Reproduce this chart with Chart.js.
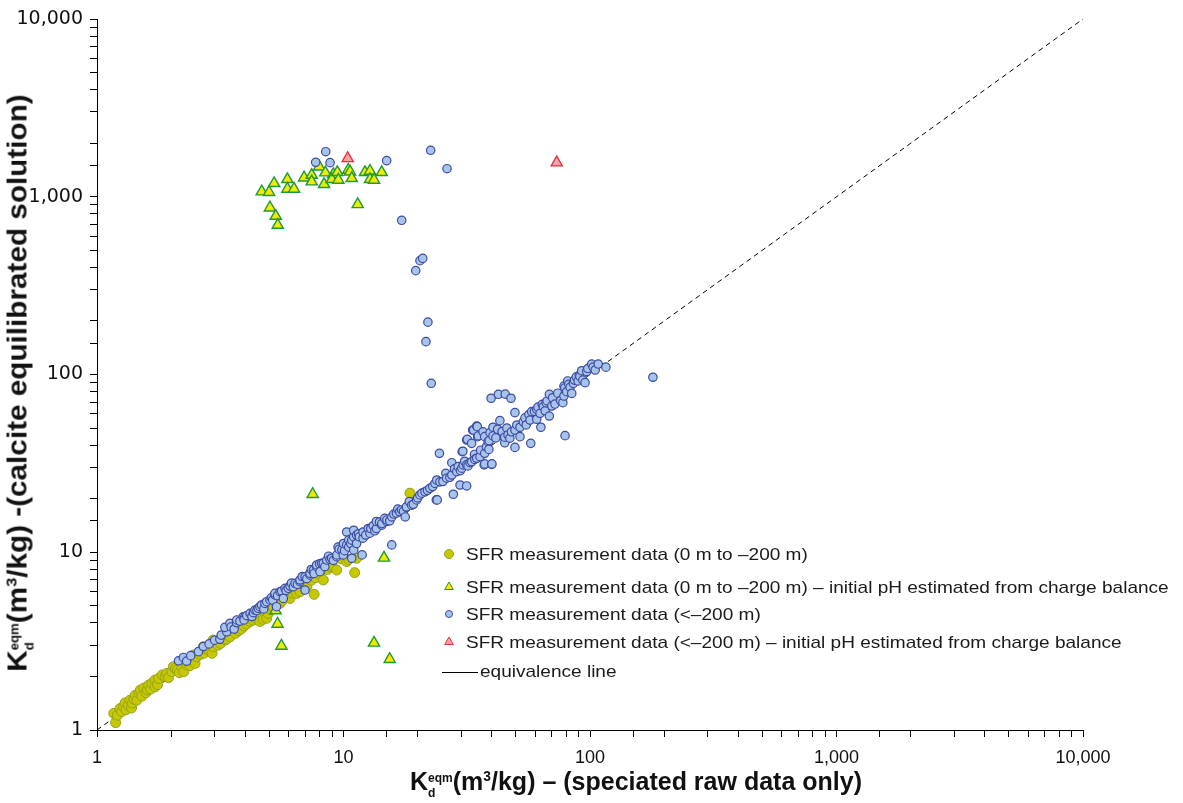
<!DOCTYPE html>
<html lang="en">
<head>
<meta charset="UTF-8">
<title>Kd eqm - calcite equilibrated vs speciated raw data</title>
<script src="https://cdn.jsdelivr.net/npm/chart.js"></script>
<style>
  body { margin: 0; background: #fff; }
  #wrap { position: relative; width: 1183px; height: 803px; }
  .axis-title {
    position: absolute; white-space: nowrap; color: #111;
    font-family: 'Liberation Sans', Arial, sans-serif; font-weight: bold; line-height: 1;
  }
  .kd { display: inline-block; vertical-align: -7px; font-size: 12px; line-height: 15px; text-align: left; }
  .kd span { display: block; }
  .cube { font-size: 0.55em; vertical-align: 0.65em; }
</style>
</head>
<body>
<div id="wrap">
  <canvas id="kdChart"></canvas>
  <div class="axis-title" id="xTitle" style="left:636px; top:785px; font-size:25px; transform: translate(-50%,-50%);">K<span class="kd"><span>eqm</span><span>d</span></span>(m<span class="cube">3</span>/kg) – (speciated raw data only)</div>
  <div class="axis-title" id="yTitle" style="left:21px; top:383px; font-size:27px; transform: translate(-50%,-50%) rotate(-90deg) scaleX(1.1);">K<span class="kd"><span>eqm</span><span>d</span></span>(m<span class="cube">3</span>/kg) -(calcite equilibrated solution)</div>
</div>

<script>
// axis range (log10 both ways)
const axisMin = 1;
const axisMax = 10000;

// SFR measurement data (0 m to -200 m)
const shallowCircles = [
  [1.19,1.10],[1.17,1.24],[1.21,1.21],[1.24,1.32],[1.26,1.27],[1.28,1.35],[1.30,1.42],[1.31,1.30],
  [1.34,1.38],[1.36,1.47],[1.38,1.33],[1.39,1.42],[1.41,1.49],[1.43,1.57],[1.45,1.47],[1.48,1.61],
  [1.50,1.68],[1.52,1.55],[1.55,1.72],[1.58,1.62],[1.60,1.68],[1.62,1.79],[1.65,1.70],[1.67,1.83],
  [1.72,1.91],[1.72,1.75],[1.76,1.80],[1.78,1.95],[1.84,2.04],[1.89,2.00],[1.92,2.08],[1.95,1.97],
  [2.01,2.13],[2.04,2.27],[2.08,2.22],[2.12,2.18],[2.16,2.10],[2.21,2.27],[2.25,2.13],[2.28,2.40],
  [2.32,2.32],[2.38,2.30],[2.43,2.48],[2.46,2.64],[2.50,2.37],[2.54,2.58],[2.62,2.66],[2.70,2.94],
  [2.71,2.70],[2.78,2.86],[2.84,2.82],[2.93,2.70],[2.96,3.21],[2.97,2.94],[3.05,3.12],[3.10,3.00],
  [3.17,3.07],[3.25,3.35],[3.32,3.21],[3.35,3.25],[3.40,3.45],[3.47,3.35],[3.57,3.73],[3.65,3.50],
  [3.75,3.62],[3.85,3.70],[3.95,3.85],[4.05,3.95],[4.18,4.08],[4.30,4.15],[4.40,4.25],[4.50,4.40],
  [4.58,4.08],[4.72,4.19],[4.80,4.65],[4.88,4.25],[4.95,4.53],[5.05,4.75],[5.20,4.90],[5.35,5.10],
  [5.53,5.16],[5.65,5.35],[5.80,5.60],[6.07,5.50],[6.20,5.90],[6.45,5.87],[6.66,6.00],[6.90,6.55],
  [7.10,6.40],[7.40,6.95],[7.60,5.80],[7.70,7.20],[8.00,7.50],[8.28,6.98],[8.60,8.00],[8.80,8.30],
  [9.00,8.40],[9.38,7.94],[9.80,9.20],[10.3,8.87],[10.5,9.10],[11.1,7.68],[11.3,9.25],[18.6,21.5]
];

// SFR measurement data (0 m to -200 m) - initial pH estimated from charge balance
const shallowTriangles = [
  [4.66,1068],[4.99,1060],[5.23,1190],[5.03,868],[5.31,779],[5.41,693],[5.92,1254],[5.92,1106],
  [6.30,1106],[6.92,1280],[7.43,1325],[7.43,1216],[7.97,1476],[8.34,1175],[8.44,1366],[9.09,1337],
  [8.96,1254],[9.44,1373],[9.53,1243],[10.46,1414],[10.63,1383],[10.80,1270],[11.42,906],[12.22,1373],
  [12.81,1396],[12.81,1254],[13.30,1243],[14.29,1373],
  [7.5,21.2],[5.3,4.7],[5.4,3.95],[5.6,2.97],[14.6,9.3],[13.3,3.09],[15.4,2.5]
];

// SFR measurement data (<-200 m)
const deepCircles = [
  [8.47,1792],[7.71,1563],[8.82,1555],[14.97,1596],[17.22,737],[22.58,1825],[26.3,1438],[19.63,384],
  [20.43,437],[20.96,450],[22.0,197],[21.6,153],[22.7,89.2],[180,96.5],[79.2,45.3],[15.7,11.0],[11.9,9.66],
  [2.14,2.45],[2.24,2.56],[2.31,2.44],[2.40,2.62],[2.58,2.76],[2.70,2.95],[2.85,3.05],[3.00,3.20],
  [3.15,3.24],[3.19,3.42],[3.36,3.57],[3.30,3.78],[3.46,3.98],[3.50,3.80],[3.60,3.70],[3.68,4.02],
  [3.69,4.16],[3.80,4.10],[3.92,4.34],[3.98,4.34],[3.95,4.16],[4.05,4.40],[4.18,4.53],[4.25,4.35],
  [4.31,4.57],[4.37,4.73],[4.45,4.70],[4.51,4.84],[4.58,4.94],[4.65,5.05],[4.75,4.80],[4.80,5.16],
  [4.88,5.27],[5.03,5.39],[5.10,5.55],[5.16,5.39],[5.27,5.75],[5.27,5.87],[5.35,4.94],[5.40,5.70],
  [5.53,6.00],[5.61,6.05],[5.70,5.50],[5.79,6.27],[5.85,6.10],[5.97,6.27],[6.07,6.46],[6.15,6.70],
  [6.26,6.40],[6.36,6.69],[6.50,6.60],[6.66,6.83],[6.66,6.98],[6.80,7.30],[6.98,7.28],[6.98,6.13],
  [7.10,7.10],[7.31,7.45],[7.31,7.62],[7.40,8.00],[7.55,7.94],[7.60,7.60],[7.78,8.29],[7.78,8.48],
  [8.00,8.60],[8.03,7.78],[8.15,8.66],[8.28,8.66],[8.40,8.30],[8.55,9.04],[8.70,9.50],[8.81,9.13],
  [8.95,9.25],[9.10,9.00],[9.38,9.44],[9.40,9.66],[9.50,10.7],[9.60,10.4],[9.85,10.3],[9.98,9.66],
  [10.0,11.2],[10.1,10.2],[10.3,11.0],[10.3,13.0],[10.5,10.7],[10.5,11.7],[10.7,11.2],[10.8,11.7],
  [10.8,9.25],[11.0,10.3],[11.0,12.2],[11.0,13.3],[11.3,11.2],[11.3,12.5],[11.5,12.7],[11.6,12.2],
  [12.0,12.0],[12.0,13.0],[12.3,12.5],[12.6,13.6],[12.8,12.8],[12.9,13.6],[13.2,14.1],[13.4,13.2],
  [13.6,13.6],[13.6,14.9],[14.0,14.8],[14.3,14.2],[14.3,14.5],[14.7,15.5],[15.0,14.9],[15.0,15.2],
  [15.4,15.0],[15.7,15.8],[16.0,16.4],[16.4,16.6],[16.6,17.5],[16.9,16.9],[17.2,17.3],[17.5,17.0],
  [17.8,15.8],[18.0,17.9],[18.0,18.0],[18.5,19.3],[18.9,18.4],[19.2,18.6],[19.8,19.7],[20.0,20.2],
  [20.4,21.0],[20.8,21.5],[21.4,21.9],[21.9,22.3],[22.4,22.9],[23.0,23.4],[23.5,24.4],[23.8,19.7],
  [23.9,25.5],[24.0,19.7],[24.5,36.0],[24.6,24.9],[25.3,25.0],[26.0,27.8],[26.2,26.1],[27.0,26.4],
  [27.5,27.2],[27.5,31.9],[27.9,21.2],[28.2,29.5],[28.8,28.4],[29.2,30.3],[29.7,23.9],[29.8,28.8],
  [30.2,29.7],[30.3,36.8],[30.5,37.0],[30.6,31.0],[31.0,32.5],[31.6,31.0],[31.6,23.6],[31.6,42.8],
  [31.8,43.2],[32.0,30.6],[32.6,31.9],[33.1,32.3],[33.1,41.0],[33.4,48.7],[33.7,48.7],[34.0,35.5],
  [34.1,33.3],[34.7,33.8],[34.7,51.3],[34.9,50.9],[35.0,44.7],[35.2,45.1],[35.8,34.5],[36.0,37.5],
  [36.8,47.6],[37.2,31.0],[37.4,31.4],[37.4,36.0],[37.4,44.7],[38.0,39.2],[38.6,41.9],[38.9,37.9],
  [39.0,42.5],[39.3,47.1],[39.7,73.5],[39.9,31.2],[40.0,31.4],[40.4,45.1],[40.4,50.5],[41.5,44.0],
  [42.2,49.2],[42.5,77.4],[43.1,55.0],[44.0,47.8],[45.1,41.3],[45.1,44.4],[45.3,77.6],[46.0,50.0],
  [46.5,45.7],[47.3,43.8],[47.8,73.5],[48.0,47.6],[49.6,38.9],[49.6,48.7],[49.6,61.0],[50.5,52.0],
  [52.0,44.7],[52.0,50.5],[53.6,54.2],[54.5,57.0],[55.1,52.0],[56.5,59.5],[57.1,55.4],[57.5,41.0],
  [58.0,61.8],[59.5,62.0],[60.8,56.0],[60.8,63.7],[61.5,65.5],[62.7,60.5],[63.2,50.5],[64.0,68.0],
  [64.7,65.9],[65.8,62.5],[66.3,69.4],[67.0,71.0],[68.4,58.4],[68.4,77.4],[70.0,66.5],[70.5,74.0],
  [72.1,68.2],[74.0,78.5],[76.0,71.3],[77.6,69.4],[78.4,75.7],[78.4,86.1],[79.0,84.0],[80.4,80.0],
  [81.2,92.0],[82.0,88.0],[83.0,84.7],[84.3,78.3],[85.6,89.2],[86.5,93.0],[88.0,97.0],[89.5,92.0],
  [90.5,99.0],[91.0,97.5],[92.5,105],[93.5,93.1],[95.5,90.0],[97.0,104],[98.0,108],[101.6,114.5],
  [103,110],[105,106],[108,114.5],[116,110]
];

// SFR measurement data (<-200 m) - initial pH estimated from charge balance
const deepTriangles = [[10.4,1645],[73.3,1555]];

// 1:1 line
const equivalence = [[1,1],[10000,10000]];

const seriesLabels = [
  'SFR measurement data (0 m to \u2013200 m)',
  'SFR measurement data (0 m to \u2013200 m) \u2013 initial pH estimated from charge balance',
  'SFR measurement data (<\u2013200 m)',
  'SFR measurement data (<\u2013200 m) \u2013 initial pH estimated from charge balance',
  'equivalence line'
];

const toXY = pts => pts.map(p => ({ x: p[0], y: p[1] }));

// text a bit wider than the font, like the original
function wideText(ctx, text, x, y) {
  ctx.save();
  ctx.translate(x, y);
  ctx.scale(1.12, 1);
  ctx.fillText(text, 0, 0);
  ctx.restore();
}

// legend drawn inside the plot, lower right
const insideLegend = {
  id: 'insideLegend',
  afterDraw(chart) {
    const ctx = chart.ctx;
    const rows = [554, 587, 614, 642];
    const sizes = [4.5, 5, 3.5, 5];
    ctx.save();
    ctx.font = "17px 'Liberation Sans', Arial, sans-serif";
    ctx.textBaseline = 'middle';
    chart.data.datasets.slice(0, 4).forEach((ds, i) => {
      ctx.fillStyle = ds.backgroundColor;
      ctx.strokeStyle = ds.borderColor;
      ctx.lineWidth = 1;
      Chart.helpers.drawPoint(ctx, { pointStyle: ds.pointStyle, radius: sizes[i], rotation: 0, borderWidth: 1 }, 449, rows[i]);
      ctx.fillStyle = '#1a1a1a';
      wideText(ctx, ds.label, 466, rows[i] + 1);
    });
    ctx.strokeStyle = '#000';
    ctx.lineWidth = 1;
    ctx.beginPath();
    ctx.moveTo(442, 672.5);
    ctx.lineTo(478, 672.5);
    ctx.stroke();
    ctx.fillStyle = '#1a1a1a';
    wideText(ctx, seriesLabels[4], 480, 672);
    ctx.restore();
  }
};

function logLabel(value) {
  const l = Math.log10(value);
  if (Math.abs(l - Math.round(l)) < 1e-6) return Math.round(value).toLocaleString('en-US');
  return '';
}

const ctx = document.getElementById('kdChart').getContext('2d');
new Chart(ctx, {
  type: 'scatter',
  data: {
    datasets: [
      { label: seriesLabels[0], data: toXY(shallowCircles), pointStyle: 'circle', pointRadius: 5,
        backgroundColor: '#c8c800', borderColor: '#93a31d', borderWidth: 1, order: 5 },
      { label: seriesLabels[1], data: toXY(shallowTriangles), pointStyle: 'triangle', pointRadius: 6.5,
        backgroundColor: '#f2ea00', borderColor: '#1e9a3c', borderWidth: 1.4, order: 4 },
      { label: seriesLabels[2], data: toXY(deepCircles), pointStyle: 'circle', pointRadius: 4.2,
        backgroundColor: '#a9c4ea', borderColor: '#3b4ba3', borderWidth: 1.2, order: 3 },
      { label: seriesLabels[3], data: toXY(deepTriangles), pointStyle: 'triangle', pointRadius: 6.5,
        backgroundColor: '#f5a3aa', borderColor: '#e0303c', borderWidth: 1.3, order: 2 },
      { type: 'line', label: seriesLabels[4], data: toXY(equivalence), showLine: true, pointRadius: 0,
        borderColor: '#000', borderWidth: 1, borderDash: [5, 4], order: 10 }
    ]
  },
  options: {
    responsive: true,
    maintainAspectRatio: false,
    animation: false,
    layout: { padding: { left: 0, right: 100, top: 19, bottom: 0 } },
    plugins: { legend: { display: false }, tooltip: { enabled: false } },
    scales: {
      x: {
        type: 'logarithmic', min: axisMin, max: axisMax,
        grid: { display: true, drawOnChartArea: false, drawTicks: true, tickLength: 7, color: '#000', lineWidth: 1 },
        border: { display: true, color: '#000', width: 1 },
        ticks: { autoSkip: false, maxRotation: 0, padding: 10, color: '#111',
          font: { family: "'Liberation Sans', Arial, sans-serif", size: 18 }, callback: logLabel },
        afterFit: scale => { scale.height = 73; }
      },
      y: {
        type: 'logarithmic', min: axisMin, max: axisMax,
        grid: { display: true, drawOnChartArea: false, drawTicks: true, tickLength: 7, color: '#000', lineWidth: 1 },
        border: { display: true, color: '#000', width: 1 },
        ticks: { autoSkip: false, padding: 7, color: '#111',
          font: { family: "'DejaVu Sans', Verdana, sans-serif", size: 19 }, callback: logLabel },
        afterFit: scale => { scale.width = 97; }
      }
    }
  },
  plugins: [insideLegend]
});
</script>
</body>
</html>
